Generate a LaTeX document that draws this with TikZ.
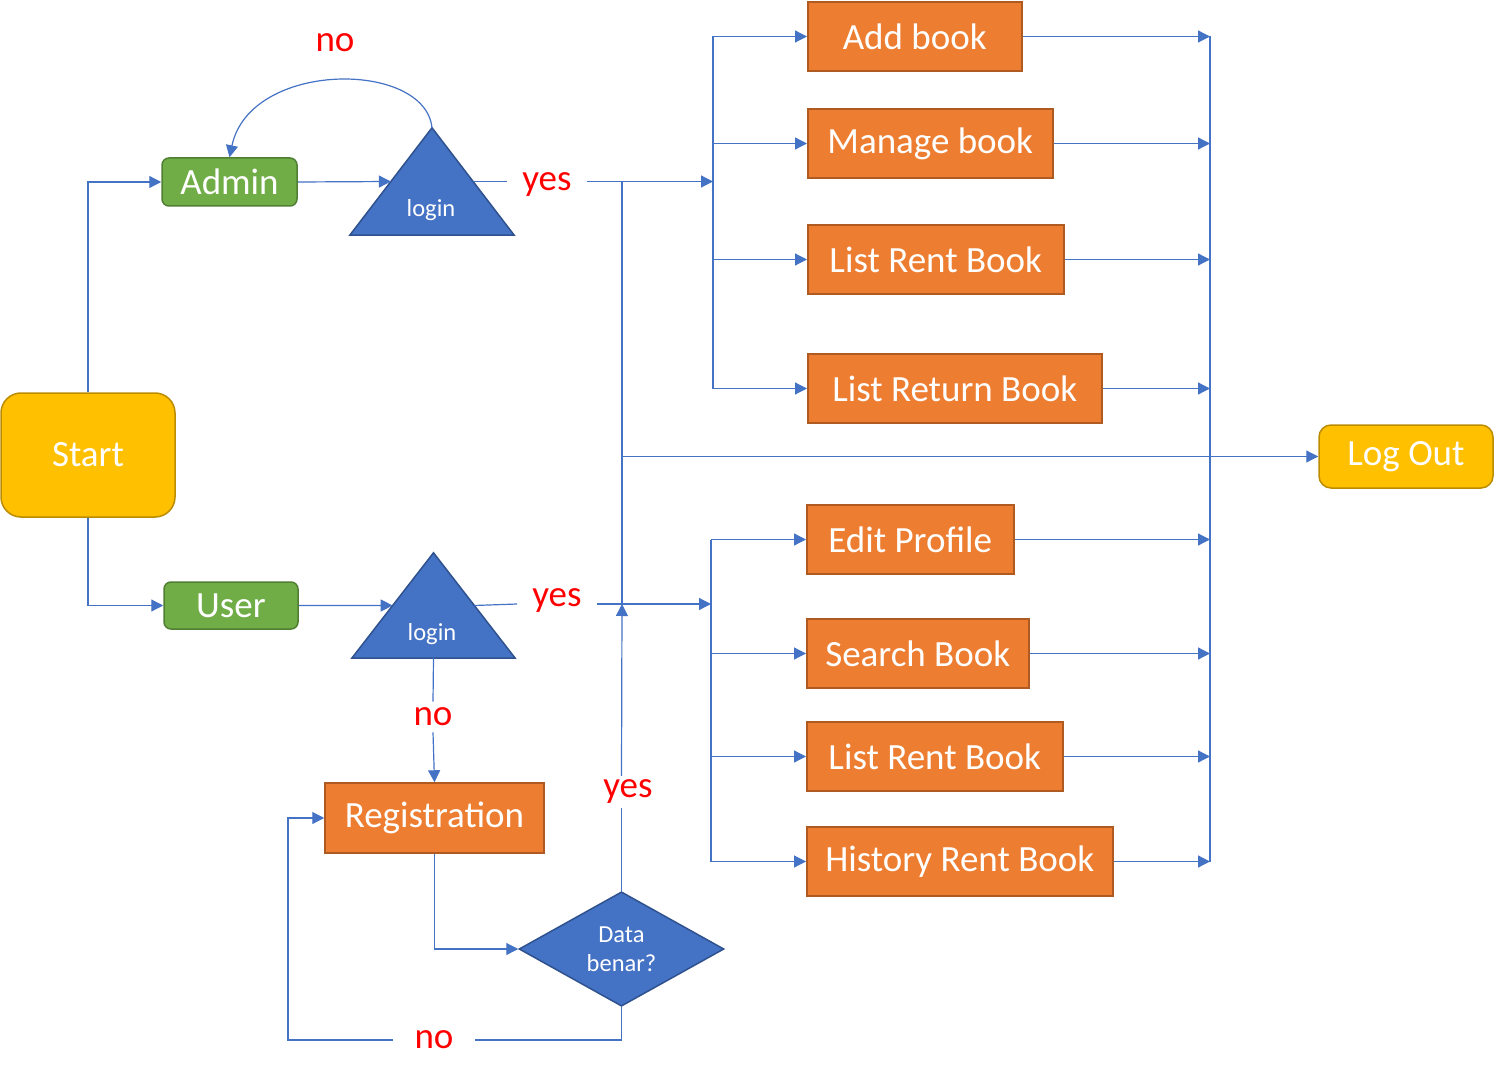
\documentclass[tikz,border=0pt]{standalone}
\usepackage{fontspec}
\setmainfont{Carlito}
\usetikzlibrary{shapes.geometric,arrows.meta,calc}
\definecolor{ob}{HTML}{ED7D31}
\definecolor{obd}{HTML}{AE5A21}
\definecolor{gb}{HTML}{70AD47}
\definecolor{gbd}{HTML}{507E32}
\definecolor{yb}{HTML}{FFC000}
\definecolor{ybd}{HTML}{BC8C00}
\definecolor{bb}{HTML}{4472C4}
\definecolor{bbd}{HTML}{2F528F}
\definecolor{redl}{HTML}{FF0000}
\tikzset{
  big/.style={font=\fontsize{37}{41}\selectfont},
  small/.style={font=\fontsize{24.5}{30}\selectfont},
  obox/.style={big, draw=obd, fill=ob, line width=1.5pt, text=white, minimum height=69pt, inner sep=0pt, anchor=west},
  gbox/.style={big, draw=gbd, fill=gb, line width=1.5pt, text=white, rounded corners=7pt, inner sep=0pt},
  ybox/.style={big, draw=ybd, fill=yb, line width=1.5pt, text=white, inner sep=0pt},
  tribox/.style={draw=none, inner sep=0pt},
  trifill/.style={fill=bb, draw=bbd, line width=1.5pt, line join=miter},
  lbl/.style={big, text=redl, inner xsep=15pt, inner ysep=6pt},
  ln/.style={draw=bb, line width=1.2pt},
  conn/.style={ln, -{Triangle[length=12pt,width=12pt]}},
}
\begin{document}
\begin{tikzpicture}[x=1pt,y=-1pt]
\useasboundingbox (0,0) rectangle (1494,1083);

% main nodes
\node[ybox, rounded corners=20pt, minimum width=174pt, minimum height=124pt] (start) at (88,455) {\raisebox{-2pt}{Start}};
\node[ybox, rounded corners=12pt, minimum width=174pt, minimum height=63pt] (logout) at (1406,456.5) {\raisebox{-2pt}{Log Out}};
\node[gbox, minimum width=135pt, minimum height=48pt] (admin) at (229.5,182) {\raisebox{-1pt}{Admin}};
\node[gbox, minimum width=134pt, minimum height=47pt] (user) at (231,605.5) {\raisebox{-1pt}{User}};

% triangles
\node[tribox, minimum width=164pt, minimum height=107pt] (at) at (432,181.5) {};
\node[tribox, minimum width=163pt, minimum height=105pt] (ut) at (433.5,605.5) {};
\path[trifill] (at.north) -- (at.south east) -- (at.south west) -- cycle;
\path[trifill] (ut.north) -- (ut.south east) -- (ut.south west) -- cycle;
\node[small, text=white] (atl) at (431,210) {login};
\node[small, text=white] (utl) at (432,634) {login};

% registration and decision
\node[obox, anchor=center, minimum width=219pt, minimum height=70pt] (reg) at (434.5,818) {\raisebox{-2pt}{Registration}};
\node[diamond, small, fill=bb, draw=bbd, line width=1.5pt, text=white, align=center, inner sep=0pt, minimum width=205pt, minimum height=108pt] (dia) at (621.5,949) {\raisebox{-1pt}{Data}\\[0pt]benar?};

% admin menu
\node[obox, minimum width=214pt] (add) at (807,36.5) {\raisebox{-2pt}{Add book}};
\node[obox, minimum width=245pt] (manage) at (807,143.5) {\raisebox{-2pt}{Manage book}};
\node[obox, minimum width=256pt] (rentA) at (807,259.5) {\raisebox{-2pt}{List Rent Book}};
\node[obox, minimum width=294pt] (ret) at (807,388.5) {\raisebox{-2pt}{List Return Book}};
% user menu
\node[obox, minimum width=207pt] (edit) at (806,539.5) {\raisebox{-2pt}{Edit Profile}};
\node[obox, minimum width=222pt] (search) at (806,653.5) {\raisebox{-2pt}{Search Book}};
\node[obox, minimum width=256pt] (rentU) at (806,756.5) {\raisebox{-2pt}{List Rent Book}};
\node[obox, minimum width=306pt] (hist) at (806,861.5) {\raisebox{-2pt}{History Rent Book}};

% labels
\node[lbl] (noA) at (335,43) {no};
\node[lbl] (yesA) at (547,185) {yes};
\node[lbl] (yesU) at (557,601) {yes};
\node[lbl, inner xsep=21pt] (noU) at (433,717) {no};
\node[lbl, inner ysep=4pt] (yesD) at (628,792) {yes};
\node[lbl, inner xsep=21pt] (noD) at (434,1040) {\raisebox{-3pt}{no}};

% helper coordinates
\coordinate (b1) at (713,0);
\coordinate (b2) at (1210,0);
\coordinate (b3) at (711,0);
\coordinate (cL) at (288,0);
\coordinate (ja) at (622,181.5);
\coordinate (ju) at (622,604);
\coordinate (atL) at ($(at.north)!0.5!(at.south west)$);
\coordinate (atR) at ($(at.north)!0.5!(at.south east)$);
\coordinate (utL) at ($(ut.north)!0.5!(ut.south west)$);
\coordinate (utR) at ($(ut.north)!0.5!(ut.south east)$);

% start branches
\draw[conn] (start.north) |- (admin.west);
\draw[conn] (start.south) |- (user.west);
\draw[conn] (admin.east) -- (atL);
\draw[conn] (user.east) -- (utL);

% admin login
\draw[conn] (at.north) .. controls (425,60) and (250,60) .. (admin.north);
\draw[ln] (atR) -- (atR -| yesA.west);
\draw[conn] (atR -| yesA.east) -- (atR -| b1);
\draw[ln] (add.west -| b1) -- (ret.west -| b1);
\foreach \n in {add,manage,rentA,ret} \draw[conn] (\n.west -| b1) -- (\n.west);

% user login
\draw[ln] (utR) -- (ju -| yesU.west);
\draw[conn] (ju -| yesU.east) -- (ju -| b3);
\draw[ln] (edit.west -| b3) -- (hist.west -| b3);
\foreach \n in {edit,search,rentU,hist} \draw[conn] (\n.west -| b3) -- (\n.west);

% right bus
\draw[ln] (add.east -| b2) -- (hist.east -| b2);
\foreach \n in {add,manage,rentA,ret,edit,search,rentU,hist} \draw[conn] (\n.east) -- (\n.east -| b2);

% log out path
\draw[conn] (ja) |- (logout.west);
\draw[ln] (ja) -- (ju);

% registration
\draw[ln] (ut.south) -- (noU.north);
\draw[conn] (noU.south) -- (reg.north);
\draw[conn] (reg.south) |- (dia.west);
\draw[ln] (dia.north) -- (dia.north |- yesD.south);
\draw[conn] (dia.north |- yesD.north) -- (ju);
\draw[ln] (dia.south) |- (noD.east);
\draw[conn] (noD.west) -- (noD.west -| cL) |- (reg.west);
\end{tikzpicture}
\end{document}
